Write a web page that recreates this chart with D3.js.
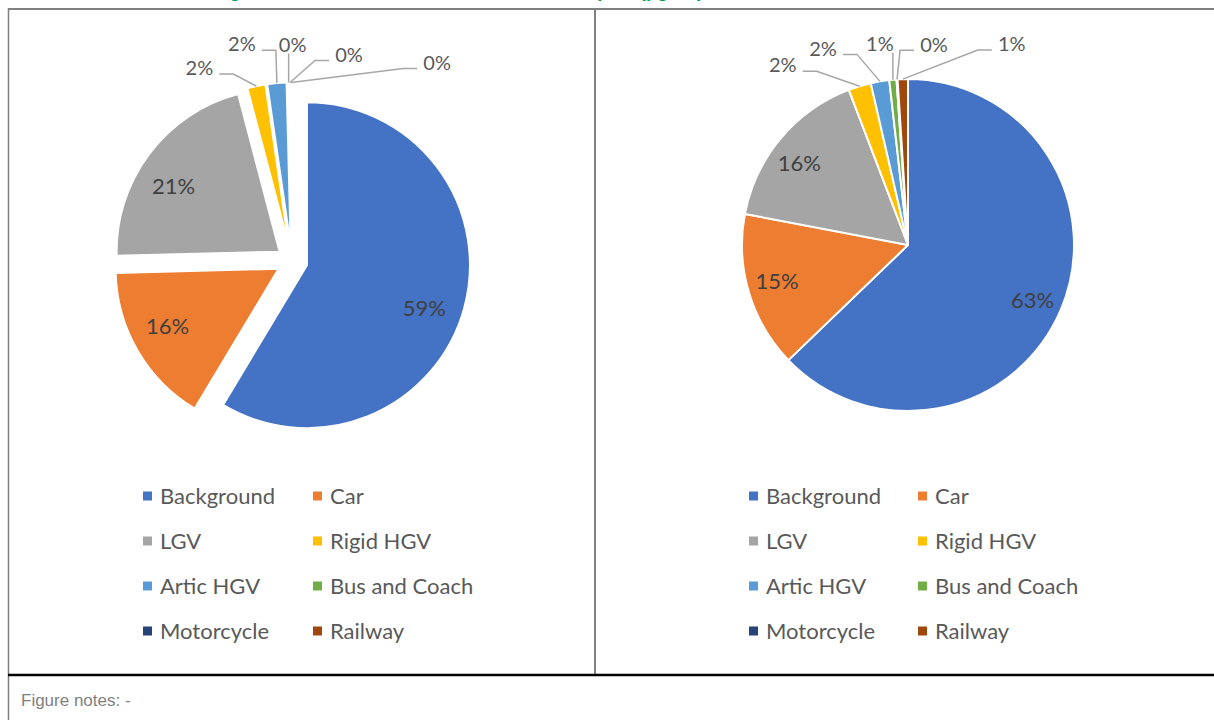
<!DOCTYPE html>
<html>
<head>
<meta charset="utf-8">
<script src="https://cdn.jsdelivr.net/npm/d3@7"></script>
<style>
  body { margin: 0; background: #fff; }
  svg { display: block; }
</style>
</head>
<body>
<script>
// data (share of total, %)
const categories = ["Background", "Car", "LGV", "Rigid HGV", "Artic HGV", "Bus and Coach", "Motorcycle", "Railway"];
const colours = ["#4472C4", "#ED7D31", "#A5A5A5", "#FFC000", "#5B9BD5", "#70AD47", "#264478", "#9E480E"];
const leftShares = [58.6, 16.0, 21.3, 1.8, 1.9, 0.2, 0.05, 0.15];
const rightShares = [62.8, 15.2, 16.2, 2.2, 1.8, 0.7, 0.1, 1.0];
const titleText = "Figure 7: NOx source contributions at receptor (µg/m³)";
const notesText = "Figure notes: -";

const W = 1214, H = 720;
const FONT = "Lato, 'Open Sans', sans-serif";

const svg = d3.select("body").append("svg")
  .attr("width", W).attr("height", H)
  .attr("viewBox", [0, 0, W, H]);

// heading above the table is cut off, only its descenders show
svg.append("text")
  .attr("x", 212).attr("y", -3.5)
  .attr("fill", "#00A04A")
  .style("font", "bold 19px 'Liberation Sans', Arial, sans-serif")
  .text(titleText);

// table borders
const grid = svg.append("g");
grid.append("line").attr("x1", 8).attr("x2", W).attr("y1", 9).attr("y2", 9)
  .attr("stroke", "#808080").attr("stroke-width", 2);
grid.append("line").attr("x1", 8.5).attr("x2", 8.5).attr("y1", 8).attr("y2", H)
  .attr("stroke", "#808080").attr("stroke-width", 1.5);
grid.append("line").attr("x1", 595).attr("x2", 595).attr("y1", 9).attr("y2", 675)
  .attr("stroke", "#808080").attr("stroke-width", 2);
grid.append("line").attr("x1", 8).attr("x2", W).attr("y1", 675).attr("y2", 675)
  .attr("stroke", "#000").attr("stroke-width", 2.5);

svg.append("text")
  .attr("x", 21).attr("y", 706)
  .attr("fill", "#7f7f7f")
  .style("font", "17px 'Liberation Sans', Arial, sans-serif")
  .text(notesText);

// layout per chart
const charts = [
  {
    shares: leftShares, cx: 292, cy: 261, r: 163, explode: 15.5,
    inRho: 125, inNudge: [4.5, 3, -5],
    outNudge: [[-57, -18], [-35, -39], [4, -38], [59, -28], [146, -20]],
    legendX: [143, 313]
  },
  {
    shares: rightShares, cx: 908, cy: 245, r: 166, explode: 0,
    inRho: 136, inNudge: [0.7, 1, -3],
    outNudge: [[-77, -21], [-57, -33], [-13, -36], [37, -35], [109, -35]],
    legendX: [749, 918]
  }
];

const pie = d3.pie().sort(null).value(d => d.v);
const dir = a => [Math.sin(a), -Math.cos(a)];

charts.forEach(cfg => {
  const data = cfg.shares.map((v, i) => ({ v, name: categories[i], colour: colours[i] }));
  const total = d3.sum(data, d => d.v);
  const arcs = pie(data);
  const arc = d3.arc().innerRadius(0).outerRadius(cfg.r);

  const g = svg.append("g").attr("transform", `translate(${cfg.cx},${cfg.cy})`);

  g.selectAll("path.slice")
    .data(arcs)
    .enter()
    .append("path")
    .attr("class", "slice")
    .attr("d", arc)
    .attr("fill", d => d.data.colour)
    .attr("stroke", "#fff")
    .attr("stroke-width", 2)
    .attr("stroke-linejoin", "round")
    .attr("transform", d => {
      const [x, y] = dir((d.startAngle + d.endAngle) / 2);
      return `translate(${x * cfg.explode},${y * cfg.explode})`;
    });

  const pct = d => Math.round(d.data.v / total * 100) + "%";

  // big slices: label inside
  arcs.slice(0, 3).forEach((d, i) => {
    const mid = (d.startAngle + d.endAngle) / 2;
    const [ex, ey] = dir(mid);
    const [lx, ly] = dir(mid + cfg.inNudge[i] * Math.PI / 180);
    g.append("text")
      .attr("x", ex * cfg.explode + lx * cfg.inRho)
      .attr("y", ey * cfg.explode + ly * cfg.inRho)
      .attr("dy", "0.36em")
      .attr("text-anchor", "middle")
      .attr("fill", "#404040")
      .style("font", `22px ${FONT}`)
      .text(pct(d));
  });

  // small slices: label outside with leader line
  arcs.slice(3).forEach((d, i) => {
    const mid = (d.startAngle + d.endAngle) / 2;
    const [ux, uy] = dir(mid);
    const ax = ux * (cfg.r + cfg.explode), ay = uy * (cfg.r + cfg.explode);
    const tx = ax + cfg.outNudge[i][0], ty = ay + cfg.outNudge[i][1];
    const hw = 14;
    let pts;
    if (Math.abs(tx - ax) < 16) {
      pts = [[ax, ty + 9], [ax, ay]];
    } else {
      const side = tx < ax ? 1 : -1;
      const sx = tx + side * (hw + 6), hy = ty + 6;
      pts = [[sx, hy], [sx + side * 14, hy], [ax, ay]];
    }
    g.append("path")
      .attr("d", d3.line()(pts))
      .attr("fill", "none")
      .attr("stroke", "#A6A6A6")
      .attr("stroke-width", 1.5);
    g.append("text")
      .attr("x", tx).attr("y", ty)
      .attr("dy", "0.36em")
      .attr("text-anchor", "middle")
      .attr("fill", "#595959")
      .style("font", `20px ${FONT}`)
      .text(pct(d));
  });

  // legend, two columns
  const legend = svg.append("g");
  data.forEach((d, i) => {
    const x = cfg.legendX[i % 2];
    const y = 496 + Math.floor(i / 2) * 45;
    legend.append("rect")
      .attr("x", x).attr("y", y - 4.5)
      .attr("width", 9).attr("height", 9)
      .attr("fill", d.colour);
    legend.append("text")
      .attr("x", x + 17).attr("y", y)
      .attr("dy", "0.36em")
      .attr("fill", "#595959")
      .style("font", `22px ${FONT}`)
      .text(d.name);
  });
});
</script>
</body>
</html>
